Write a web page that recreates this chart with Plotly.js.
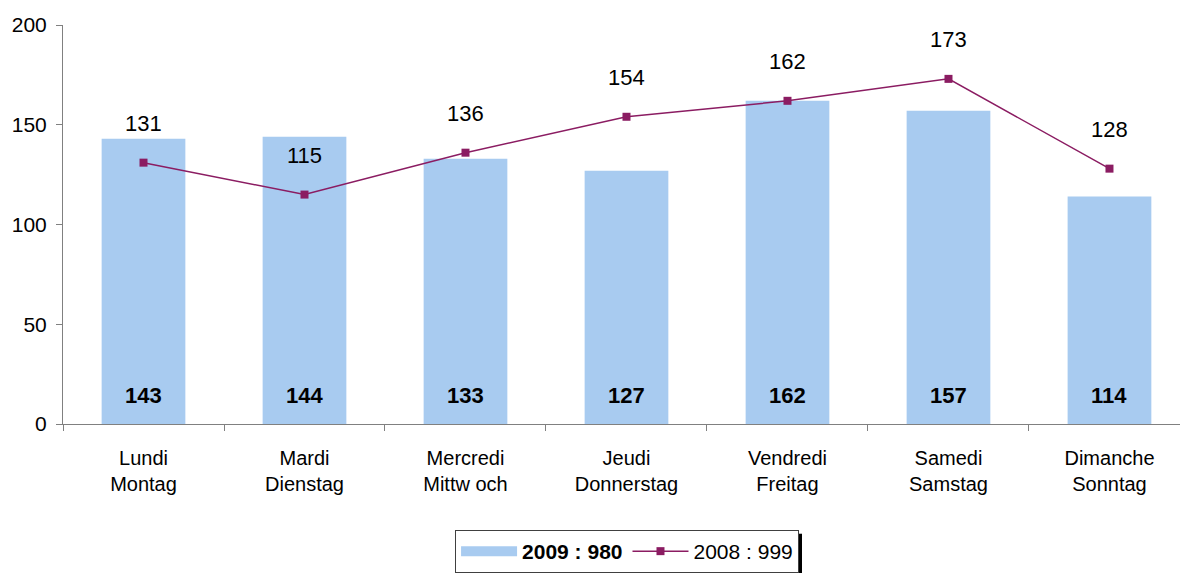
<!DOCTYPE html>
<html>
<head>
<meta charset="utf-8">
<script src="https://cdn.plot.ly/plotly-3.0.1.min.js"></script>
<style>body{margin:0;background:#fff}#plot{width:1180px;height:573px}</style>
</head>
<body>
<div id="plot"></div>
<script>
// days, fr / de
var days = ["Lundi<br>Montag", "Mardi<br>Dienstag", "Mercredi<br>Mittw och", "Jeudi<br>Donnerstag",
  "Vendredi<br>Freitag", "Samedi<br>Samstag", "Dimanche<br>Sonntag"];
var values2009 = [143, 144, 133, 127, 162, 157, 114];
var values2008 = [131, 115, 136, 154, 162, 173, 128];
var name2009 = "<b>2009 : 980</b>";
var name2008 = "2008 : 999";

var barColor = "#A8CBF0";
var lineColor = "#8B1C62";

var traces = [
  {
    type: "bar",
    name: name2009,
    x: days,
    y: values2009,
    width: 0.52,
    marker: {color: barColor},
    showlegend: false
  },
  // legend-only entry so the swatch is a wide block like the original
  {
    type: "scatter",
    mode: "lines",
    name: name2009,
    x: [null],
    y: [null],
    line: {color: barColor, width: 16}
  },
  {
    type: "scatter",
    mode: "lines+markers",
    name: name2008,
    x: days,
    y: values2008,
    line: {color: lineColor, width: 1.5},
    marker: {symbol: "square", size: 8, color: lineColor}
  }
];

// labels: bold inside bar bottom, plain above line points
var annotations = [];
days.forEach(function(d, i) {
  annotations.push({
    x: d, y: 0, yanchor: "bottom", yshift: 14, showarrow: false,
    text: "<b>" + values2009[i] + "</b>",
    font: {size: 22, color: "#000"}
  });
  annotations.push({
    x: d, y: values2008[i], yanchor: "middle", yshift: 39, showarrow: false,
    text: String(values2008[i]),
    font: {size: 22, color: "#000"}
  });
});

var layout = {
  width: 1180,
  height: 573,
  margin: {l: 63, r: 0, t: 25, b: 148},
  font: {family: "Liberation Sans, Arial, sans-serif", color: "#000"},
  paper_bgcolor: "#fff",
  plot_bgcolor: "#fff",
  showlegend: true,
  legend: {
    orientation: "h",
    x: 0.351, xanchor: "left",
    y: -0.265, yanchor: "top",
    bordercolor: "#404040", borderwidth: 1,
    font: {size: 21},
    itemwidth: 56,
    traceorder: "normal"
  },
  xaxis: {
    range: [-0.5, 6.438],
    showline: true, linecolor: "#808080", linewidth: 1,
    ticks: "outside", tickson: "boundaries", ticklen: 6, tickcolor: "#808080",
    tickfont: {size: 20},
    ticklabelstandoff: 16,
    showgrid: false, zeroline: false,
    fixedrange: true
  },
  yaxis: {
    range: [0, 200],
    tickvals: [0, 50, 100, 150, 200],
    showline: true, linecolor: "#808080", linewidth: 1,
    ticks: "outside", ticklen: 6, tickcolor: "#808080",
    tickfont: {size: 21},
    ticklabelstandoff: 5,
    showgrid: false, zeroline: false,
    fixedrange: true
  },
  annotations: annotations,
  shapes: [
    {type: "rect", xref: "paper", yref: "paper",
     x0: 0.657, x1: 0.6616, y0: -0.275, y1: -0.4,
     fillcolor: "#000", line: {width: 0}}
  ]
};

Plotly.newPlot("plot", traces, layout, {displayModeBar: false, staticPlot: true});
</script>
</body>
</html>
